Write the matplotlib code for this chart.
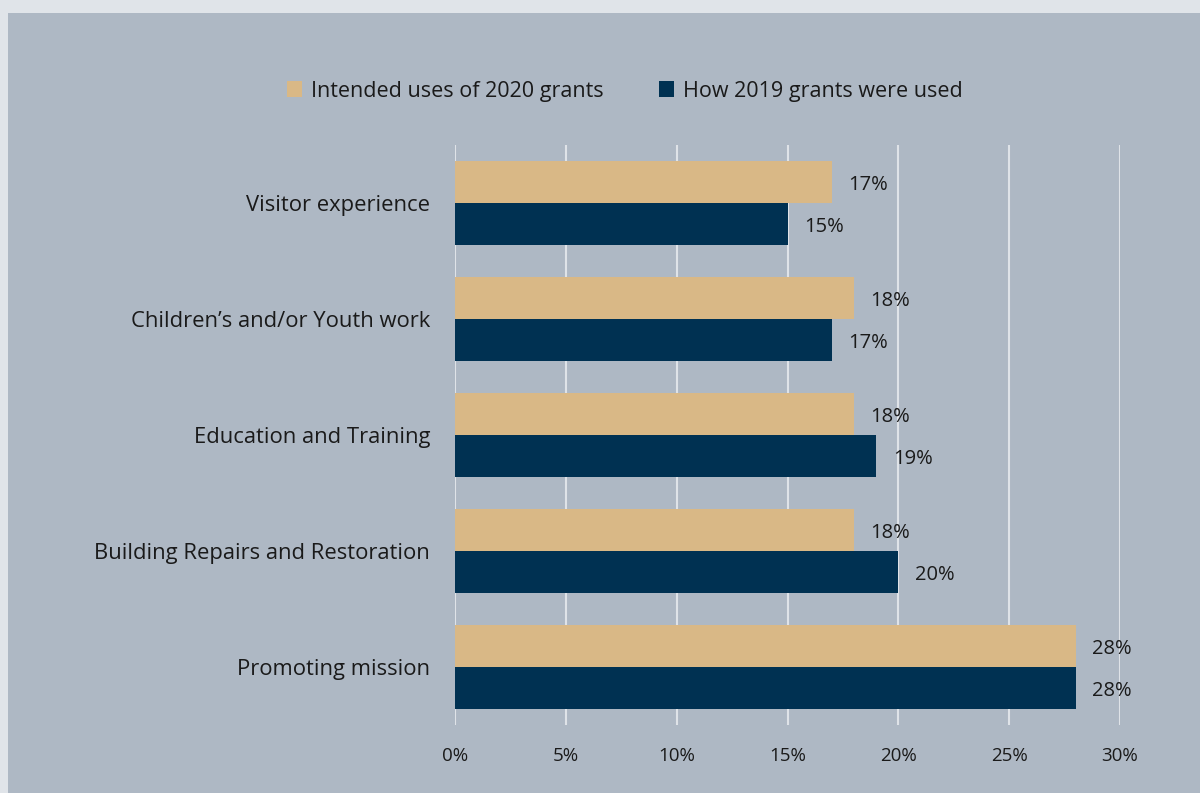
import matplotlib.pyplot as plt
from matplotlib.patches import Rectangle, Patch
import numpy as np

plt.rcParams['font.family'] = ['Open Sans', 'DejaVu Sans']

# Grant uses, top to bottom
categories = ['Visitor experience', 'Children\u2019s and/or Youth work', 'Education and Training',
              'Building Repairs and Restoration', 'Promoting mission']
intended_2020 = [17, 18, 18, 18, 28]
used_2019 = [15, 17, 19, 20, 28]
series_labels = ['Intended uses of 2020 grants', 'How 2019 grants were used']

tan = '#d9b886'
navy = '#003152'
panel = '#aeb8c4'
text_col = '#1a1a1a'

W, H = 1200, 793
fig = plt.figure(figsize=(12, 7.93), dpi=100)
fig.patch.set_facecolor('#e0e4e9')
fig.patches.append(Rectangle((8 / W, 0), 1 - 8 / W, 1 - 13 / H, transform=fig.transFigure,
                             facecolor=panel, edgecolor='none', zorder=-10))

ax = fig.add_axes([455 / W, 1 - 725 / H, (1120 - 455) / W, (725 - 145) / H])
ax.set_facecolor('none')

y = np.arange(len(categories))
h = 42 / 116
ax.barh(y - h / 2, intended_2020, height=h, color=tan, zorder=3)
ax.barh(y + h / 2, used_2019, height=h, color=navy, zorder=3)

for yi, a, b in zip(y, intended_2020, used_2019):
    ax.annotate(f'{a}%', (a, yi - h / 2), xytext=(12, -2), textcoords='offset points',
                va='center', ha='left', fontsize=14.5, color=text_col)
    ax.annotate(f'{b}%', (b, yi + h / 2), xytext=(12, -2), textcoords='offset points',
                va='center', ha='left', fontsize=14.5, color=text_col)

ax.set_xlim(0, 30)
ax.set_ylim(len(categories) - 0.5, -0.5)
ax.set_xticks(np.arange(0, 31, 5))
ax.set_xticklabels([f'{v}%' for v in range(0, 31, 5)], fontsize=13.5, color=text_col)
ax.set_yticks(y)
ax.set_yticklabels(categories, fontsize=15.8, color=text_col)
ax.tick_params(axis='x', length=0, pad=16)
ax.tick_params(axis='y', length=0, pad=18)
ax.grid(axis='x', color='#dfe3e8', linewidth=1.5, zorder=1)
for s in ax.spines.values():
    s.set_visible(False)

handles = [Patch(facecolor=tan), Patch(facecolor=navy)]
fig.legend(handles, series_labels, loc='center', bbox_to_anchor=(625 / W, 1 - 91 / H), ncol=2,
           frameon=False, fontsize=15.5, handlelength=0.7, handleheight=0.7,
           handletextpad=0.4, columnspacing=2.6, labelcolor=text_col)

fig.savefig('out.png', dpi=100, facecolor=fig.get_facecolor())
